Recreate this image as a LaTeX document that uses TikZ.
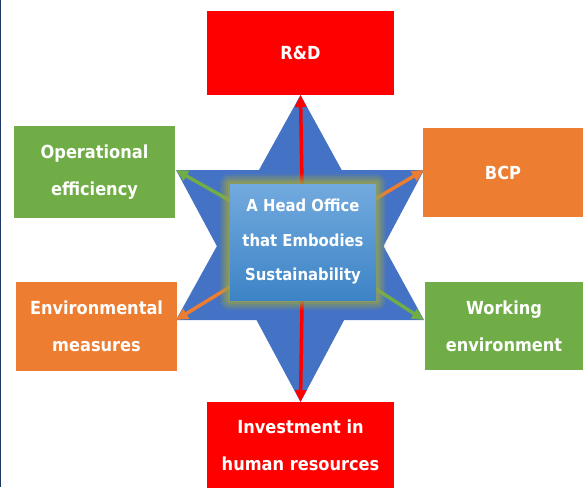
\documentclass[tikz,border=0pt]{standalone}
\usepackage{fontspec}
\setmainfont{DejaVu Sans}[FakeStretch=0.9]
\usetikzlibrary{arrows.meta,calc}
\definecolor{rRed}{HTML}{FF0000}
\definecolor{gGreen}{HTML}{70AD47}
\definecolor{oOrange}{HTML}{ED7D31}
\definecolor{sBlue}{HTML}{4472C4}
\definecolor{cTop}{HTML}{72AADE}
\definecolor{cBot}{HTML}{3D84C6}
\definecolor{glowC}{HTML}{9AA34A}
\definecolor{navy}{HTML}{1F3864}
\tikzset{
  outbox/.style={draw=none, text=white, align=center, inner sep=0pt,
    font=\bfseries\fontsize{18}{37}\selectfont},
  conn/.style={line width=3.5pt, -{Triangle[length=12pt,width=11pt]}},
}
\begin{document}
\begin{tikzpicture}[x=1pt,y=-1pt]
\useasboundingbox (0,0) rectangle (583,487);
\fill[white] (0,0) rectangle (583,487);
\draw[navy, line width=1.2pt] (0.6,0) -- (0.6,487);
% star points
\coordinate (st) at (300.5,95);
\coordinate (sb) at (300.5,402);
\coordinate (ul) at (176,170);
\coordinate (ur) at (424,170);
\coordinate (ll) at (176,320);
\coordinate (lr) at (424,320);
% star
\fill[sBlue] (st) -- (lr) -- (ll) -- cycle;
\fill[sBlue] (sb) -- (ul) -- (ur) -- cycle;
% centre node (placed first for arrows)
\node[minimum width=146pt, minimum height=116pt, inner sep=0pt] (c) at (303,242) {};
% arrows
\draw[conn, rRed] (c.center) -- (st);
\draw[conn, rRed] (c.center) -- (sb);
\draw[conn, gGreen] (c.center) -- (ul);
\draw[conn, gGreen] (c.center) -- (lr);
\draw[conn, oOrange] (c.center) -- (ur);
\draw[conn, oOrange] (c.center) -- (ll);
% glow
\foreach \g/\o in {10/0.15, 8/0.2, 6/0.25, 4/0.35, 2/0.45}{
  \fill[glowC, opacity=\o, rounded corners=\g pt] ($(c.north west)+(-\g,-\g)$) rectangle ($(c.south east)+(\g,\g)$);
}
\node[minimum width=146pt, minimum height=116pt, inner sep=0pt,
  top color=cTop, bottom color=cBot, text=white, align=center,
  font=\bfseries\fontsize{16.5}{34.5}\selectfont] (cb) at (303,242)
  {A Head Office\\that Embodies\\Sustainability};
% outer boxes
\node[outbox, fill=rRed, minimum width=187pt, minimum height=84pt] (rd) at (300.5,53) {R\&D};
\node[outbox, fill=rRed, minimum width=187pt, minimum height=86pt] (inv) at (300.5,445) {Investment in\\human resources};
\node[outbox, fill=gGreen, minimum width=161pt, minimum height=92pt] (op) at (94.5,172) {Operational\\efficiency};
\node[outbox, fill=oOrange, minimum width=161pt, minimum height=89pt] (env) at (96.5,326.5) {Environmental\\measures};
\node[outbox, fill=oOrange, minimum width=160pt, minimum height=89pt] (bcp) at (503,172.5) {BCP};
\node[outbox, fill=gGreen, minimum width=158pt, minimum height=88pt] (we) at (504,326) {Working\\environment};
\end{tikzpicture}
\end{document}
